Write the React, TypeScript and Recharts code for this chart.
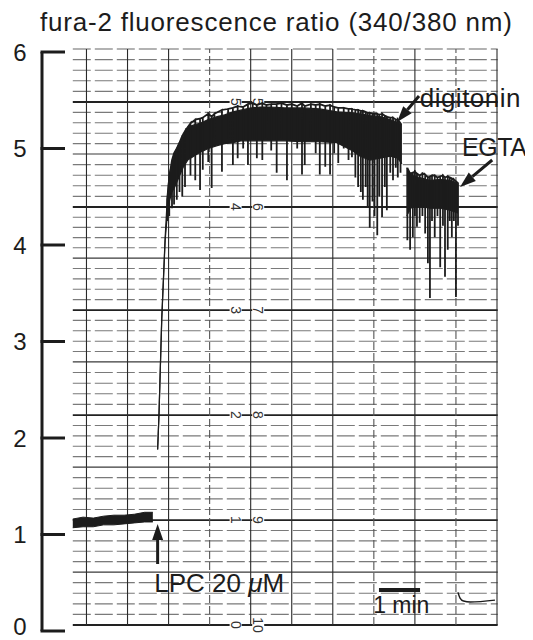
import React from 'react';
import { ComposedChart, XAxis, YAxis, Area, Line, ReferenceLine, ReferenceDot } from 'recharts';

// time in s (0 = first heavy line of the chart paper), value = 340/380 ratio
const baseline: [number, number, number][] = [
  [-20, 1.07, 1.16], [-5, 1.08, 1.18], [10, 1.08, 1.17], [25, 1.1, 1.19], [40, 1.1, 1.2],
  [55, 1.11, 1.2], [70, 1.12, 1.21], [85, 1.13, 1.23], [97, 1.13, 1.23],
];
const lpcTrace: [number, number, number][] = [
  [104, 1.88, 1.88], [106, 2.24, 2.25], [110, 3.22, 3.24], [115, 4.05, 4.08], [118, 4.3, 4.47],
  [121, 4.45, 4.73], [125, 4.55, 4.85], [129, 4.6, 4.95], [135, 4.7, 5.05], [141, 4.8, 5.12],
  [148, 4.88, 5.22], [159, 4.93, 5.25], [166, 4.96, 5.26], [178, 5.0, 5.3], [191, 5.03, 5.33],
  [202, 5.05, 5.35], [214, 5.06, 5.38], [227, 5.08, 5.4], [239, 5.08, 5.42], [254, 5.08, 5.43],
  [268, 5.08, 5.43], [290, 5.08, 5.42], [316, 5.07, 5.42], [341, 5.07, 5.41], [366, 5.06, 5.38],
  [388, 4.98, 5.37], [400, 4.92, 5.36], [414, 4.88, 5.34], [429, 4.9, 5.33], [444, 4.92, 5.3],
  [455, 4.9, 5.27], [461, 4.84, 5.25],
];
const egtaTrace: [number, number, number][] = [
  [468, 4.3, 4.8], [476, 4.4, 4.72], [487, 4.4, 4.7], [502, 4.38, 4.67], [517, 4.38, 4.68],
  [531, 4.36, 4.67], [543, 4.33, 4.63],
];
// noise excursions [t, min, max]
const lpcSpikes: [number, number, number][] = [
  [118, 4.25, 4.47], [121, 4.3, 4.7], [125, 4.38, 4.88], [128, 4.42, 4.95], [132, 4.47, 5.0],
  [136, 4.55, 5.06], [140, 4.5, 5.13], [144, 4.6, 5.18], [152, 4.72, 5.26], [159, 4.67, 5.3],
  [166, 4.57, 5.31], [170, 4.78, 5.32], [178, 4.86, 5.36], [183, 4.59, 5.33], [187, 5.1, 5.36],
  [198, 4.76, 5.4], [207, 5.1, 5.41], [214, 4.83, 5.42], [221, 4.9, 5.44], [229, 5.0, 5.43],
  [236, 4.83, 5.46], [243, 5.1, 5.47], [249, 4.9, 5.45], [257, 4.88, 5.47], [263, 5.1, 5.45],
  [270, 4.98, 5.46], [278, 4.75, 5.46], [285, 5.1, 5.47], [293, 4.67, 5.45], [300, 5.1, 5.46],
  [308, 5.0, 5.44], [315, 4.73, 5.47], [319, 4.83, 5.44], [328, 5.1, 5.46], [335, 4.95, 5.45],
  [341, 4.73, 5.46], [349, 4.81, 5.44], [356, 4.73, 5.45], [362, 4.95, 5.43], [368, 4.85, 5.42],
  [376, 5.0, 5.42], [383, 4.88, 5.41], [388, 4.91, 5.41], [393, 4.7, 5.4], [397, 4.6, 5.4],
  [401, 4.55, 5.39], [404, 4.47, 5.39], [408, 4.6, 5.38], [411, 4.4, 5.37], [414, 4.18, 5.37],
  [418, 4.45, 5.36], [421, 4.3, 5.36], [425, 4.1, 5.36], [428, 4.5, 5.35], [432, 4.29, 5.36],
  [436, 4.6, 5.34], [439, 4.36, 5.33], [444, 4.75, 5.32], [448, 4.67, 5.32], [452, 4.8, 5.3],
  [455, 4.7, 5.3], [459, 4.75, 5.26],
];
const egtaSpikes: [number, number, number][] = [
  [469, 4.05, 4.8], [473, 3.95, 4.74], [477, 4.08, 4.75], [480, 4.3, 4.76], [483, 4.19, 4.74],
  [487, 4.23, 4.72], [491, 4.3, 4.74], [495, 4.12, 4.73], [499, 3.81, 4.7], [502, 3.45, 4.71],
  [505, 4.25, 4.72], [509, 4.08, 4.72], [513, 4.3, 4.7], [517, 3.77, 4.71], [521, 4.2, 4.72],
  [524, 3.67, 4.7], [528, 3.95, 4.71], [531, 4.25, 4.7], [534, 4.08, 4.69], [537, 4.25, 4.68],
  [540, 3.46, 4.66], [543, 4.2, 4.64],
];
const penMark: [number, number][] = [[543, 0.4], [546, 0.34], [551, 0.31], [561, 0.3], [597, 0.32]];

const yTicks = [0, 1, 2, 3, 4, 5, 6];
// chart paper
const paperRows = [0.062, 0.611, 1.15, 1.699, 2.238, 2.788, 3.326, 3.865, 4.394, 4.943, 5.482, 6.031];
const paperMarks = [['0', '10'], ['1', '9'], ['2', '8'], ['3', '7'], ['4', '6'], ['5', '5']];
const paperCols = [0, 60, 120, 180, 240, 300, 360, 420, 480, 540, 600];
const dashedCols = [180, 420, 540];
const paperLeft = -20;
const paperRight = 601;

const INK = '#1c1c1c';
const FONT = '"Liberation Sans", Arial, Helvetica, sans-serif';
const PAPER_Z = -100;

const band = (list: [number, number, number][]) => list.map(([t, lo, hi]) => ({ t, v: [lo, hi] }));
const zigzag = (list: [number, number, number][]) =>
  list.flatMap(([t, lo, hi]) => [{ t, v: hi }, { t, v: lo }, { t, v: hi }]);

const minorRows: number[] = [];
for (let i = 0; i < paperRows.length - 1; i++) {
  for (let k = 1; k < 5; k++) minorRows.push(paperRows[i] + ((paperRows[i + 1] - paperRows[i]) * k) / 5);
}

const YTick = ({ x, y, payload }: any) => (
  <g>
    <line x1={x - 1.5} x2={x + 23} y1={y} y2={y} stroke={INK} strokeWidth={3} />
    <text x={x - 22} y={Math.min(y, 626)} textAnchor="middle" dominantBaseline="central" fontSize={24} fill={INK} fontFamily={FONT}>
      {payload.value}
    </text>
  </g>
);

const Arrow = (p: any) => {
  const { x1, y1, x2, y2 } = p;
  const len = Math.hypot(x2 - x1, y2 - y1) || 1;
  const ux = (x2 - x1) / len;
  const uy = (y2 - y1) / len;
  const hl = 16;
  const hw = 5.5;
  const bx = x2 - ux * hl;
  const by = y2 - uy * hl;
  return (
    <g>
      <line x1={x1} y1={y1} x2={bx} y2={by} stroke={INK} strokeWidth={3} />
      <polygon points={`${x2},${y2} ${bx - uy * hw},${by + ux * hw} ${bx + uy * hw},${by - ux * hw}`} fill={INK} />
    </g>
  );
};

const textShape = (content: React.ReactNode, size = 26, spacing = 0.4) => (p: any) => (
  <text x={p.cx} y={p.cy} fontSize={size} fill={INK} fontFamily={FONT} letterSpacing={spacing}>
    {content}
  </text>
);

const markShape = (label: string) => (p: any) => (
  <g>
    <rect x={p.cx - 6} y={p.cy - label.length * 4 - 1} width={12} height={label.length * 8 + 2} fill="#fff" />
    <text
      x={p.cx}
      y={p.cy}
      transform={`rotate(90 ${p.cx} ${p.cy})`}
      textAnchor="middle"
      dominantBaseline="central"
      fontSize={14}
      fill="#333"
      fontFamily={FONT}
    >
      {label}
    </text>
  </g>
);

const areaProps = { dataKey: 'v', type: 'linear' as const, stroke: INK, fill: INK, fillOpacity: 1, dot: false, activeDot: false, isAnimationActive: false };
const lineProps = { dataKey: 'v', type: 'linear' as const, stroke: INK, dot: false, activeDot: false, isAnimationActive: false };

export default function App() {
  return (
    <div style={{ position: 'relative', width: 533, height: 640, margin: '-8px 0 0 -8px', background: '#fff', overflow: 'hidden' }}>
      <ComposedChart width={533} height={640} margin={{ top: 52, right: 36, bottom: 9, left: 0 }}>
        <XAxis type="number" dataKey="t" domain={[-65, 600]} hide allowDataOverflow />
        <YAxis
          type="number"
          domain={[0, 6]}
          ticks={yTicks}
          width={42}
          tickSize={0}
          tickMargin={0}
          tickLine={false}
          axisLine={{ stroke: INK, strokeWidth: 3 }}
          tick={<YTick />}
          allowDataOverflow
        />
        {minorRows.map((v, i) => (
          <ReferenceLine key={`m${i}`} zIndex={PAPER_Z} segment={[{ x: paperLeft, y: v }, { x: paperRight, y: v }]} stroke="#7a7a7a" strokeWidth={1.1} strokeDasharray="18 4" ifOverflow="visible" />
        ))}
        {paperRows.map((v, i) => (
          <ReferenceLine
            key={`r${i}`}
            zIndex={PAPER_Z}
            segment={[{ x: paperLeft, y: v }, { x: paperRight, y: v }]}
            stroke={i % 2 === 0 ? '#222' : i === paperRows.length - 1 ? '#666' : '#3a3a3a'}
            strokeWidth={i % 2 === 0 ? 1.8 : 1.2}
            strokeDasharray={i === paperRows.length - 1 ? '18 4' : undefined}
            ifOverflow="visible"
          />
        ))}
        {paperCols.map((c) => (
          <ReferenceLine
            key={`c${c}`}
            zIndex={PAPER_Z}
            segment={[{ x: c, y: paperRows[0] }, { x: c, y: paperRows[paperRows.length - 1] }]}
            stroke={dashedCols.includes(c) ? '#555' : '#2a2a2a'}
            strokeWidth={1.1}
            strokeDasharray={dashedCols.includes(c) ? '8 3' : undefined}
            ifOverflow="visible"
          />
        ))}
        {paperMarks.map(([a, b], i) => (
          <React.Fragment key={`pm${i}`}>
            <ReferenceDot zIndex={PAPER_Z + 10} x={218} y={paperRows[i * 2]} r={0} shape={markShape(a)} ifOverflow="visible" />
            <ReferenceDot zIndex={PAPER_Z + 10} x={251} y={paperRows[i * 2]} r={0} shape={markShape(b)} ifOverflow="visible" />
          </React.Fragment>
        ))}

        <Area data={band(baseline)} strokeWidth={1} {...areaProps} />
        <Area data={band(lpcTrace)} strokeWidth={1.2} {...areaProps} />
        <Area data={band(egtaTrace)} strokeWidth={1} {...areaProps} />
        <Line data={zigzag(lpcSpikes)} strokeWidth={1.8} {...lineProps} />
        <Line data={zigzag(egtaSpikes)} strokeWidth={1.8} {...lineProps} />
        <Line data={penMark.map(([t, v]) => ({ t, v }))} strokeWidth={1.5} {...lineProps} type="monotone" />

        {/* annotations */}
        <ReferenceLine segment={[{ x: 486, y: 5.544 }, { x: 454, y: 5.275 }]} shape={Arrow} ifOverflow="visible" />
        <ReferenceLine segment={[{ x: 593, y: 4.881 }, { x: 546, y: 4.601 }]} shape={Arrow} ifOverflow="visible" />
        <ReferenceLine segment={[{ x: 104, y: 0.694 }, { x: 104, y: 1.109 }]} shape={Arrow} ifOverflow="visible" />
        <ReferenceLine segment={[{ x: 427.5, y: 0.425 }, { x: 487.5, y: 0.425 }]} stroke={INK} strokeWidth={4} ifOverflow="visible" />
        <ReferenceDot x={487} y={5.43} r={0} shape={textShape('digitonin', 26, 0.5)} ifOverflow="visible" />
        <ReferenceDot x={549} y={4.922} r={0} shape={textShape('EGTA', 25, -0.5)} ifOverflow="visible" />
        <ReferenceDot
          x={99}
          y={0.404}
          r={0}
          shape={textShape(<>LPC 20 <tspan fontStyle="italic">μ</tspan>M</>, 26, 0)}
          ifOverflow="visible"
        />
        <ReferenceDot x={419} y={0.187} r={0} shape={textShape('1 min', 23, 0)} ifOverflow="visible" />
      </ComposedChart>
      <div
        style={{
          position: 'absolute',
          left: 40,
          top: 9,
          fontFamily: FONT,
          fontSize: 26,
          lineHeight: '26px',
          letterSpacing: 0.8,
          color: INK,
          whiteSpace: 'nowrap',
        }}
      >
        fura-2 fluorescence ratio (340/380 nm)
      </div>
    </div>
  );
}
